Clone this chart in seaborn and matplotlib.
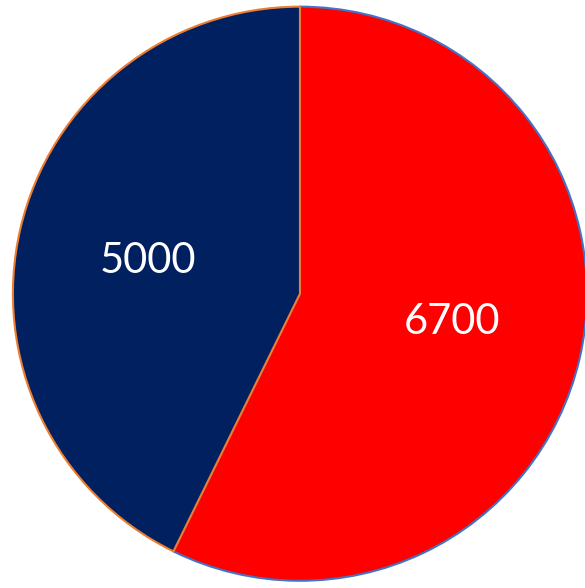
import matplotlib
matplotlib.use("Agg")
import matplotlib.pyplot as plt
import seaborn as sns

labels = ["6700", "5000"]
values = [6700, 5000]
colors = ["#FF0000", "#002060"]
edge_colors = ["#4472C4", "#ED7D31"]

sns.set_theme(style="white")
plt.rcParams['font.family'] = ['Lato', 'DejaVu Sans']

fig = plt.figure(figsize=(5.85, 5.88), dpi=100)
ax = fig.add_axes([0, 0, 1, 1])
wedges, _ = ax.pie(values, colors=colors, startangle=90, counterclock=False,
                   radius=1.0)
for w, ec in zip(wedges, edge_colors):
    w.set_edgecolor(ec)
    w.set_linewidth(1.5)

label_pos = [(0.53, -0.098), (-0.53, 0.115)]
for (x, y), lab in zip(label_pos, labels):
    ax.text(x, y, lab, color="white", fontsize=30, ha="center", va="center")

ax.set_xlim(-1.045, 0.993)
ax.set_ylim(-1.025, 1.023)
ax.axis("off")
fig.savefig("out.png", dpi=100)
